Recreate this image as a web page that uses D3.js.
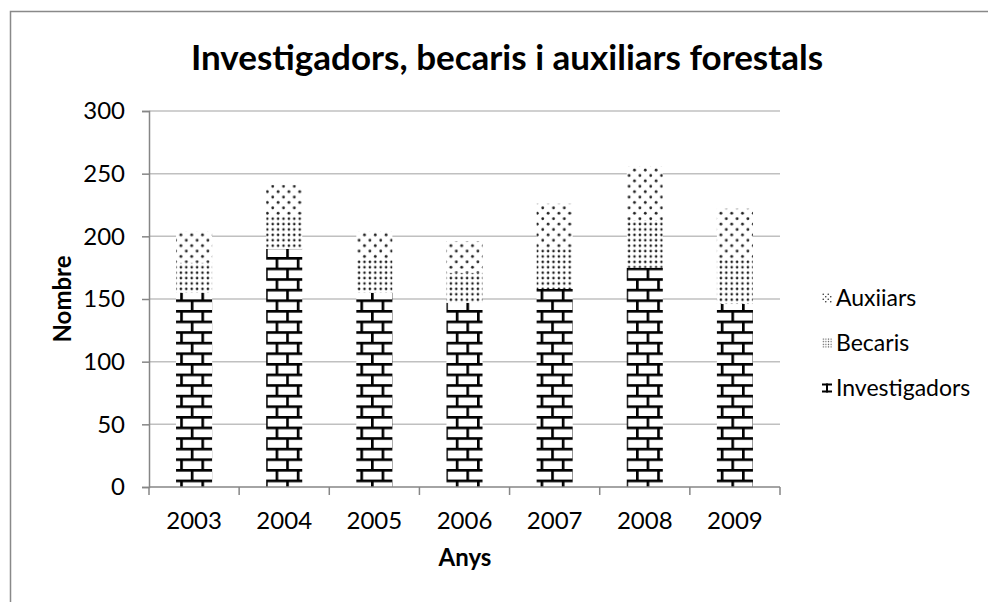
<!DOCTYPE html>
<html>
<head>
<meta charset="utf-8">
<title>Investigadors, becaris i auxiliars forestals</title>
<style>
  body { margin: 0; background: #fff; }
  text { font-family: Lato, "Open Sans", sans-serif; fill: #000; }
  .grid line { stroke: #c0c0c0; stroke-width: 1.5; }
</style>
</head>
<body>
<svg width="988" height="602"></svg>
<script src="https://cdnjs.cloudflare.com/ajax/libs/d3/7.8.5/d3.min.js"></script>
<script>
// data
var years = ["2003", "2004", "2005", "2006", "2007", "2008", "2009"];
var investigadors = [155, 190, 155, 147, 158, 175, 146];
var becaris = [24, 27, 27, 24, 33, 38, 36];
var auxiliars = [25, 24, 22, 25, 35, 43, 40];
// legend text kept as in the original ("Auxiiars")
var seriesNames = ["Investigadors", "Becaris", "Auxiiars"];
var yTicks = [0, 50, 100, 150, 200, 250, 300];

var svg = d3.select("svg"),
    width = +svg.attr("width"),
    height = +svg.attr("height");

var margin = {top: 111, left: 149, right: 208, bottom: 115};

var x = d3.scaleBand()
    .domain(years)
    .range([margin.left, width - margin.right])
    .paddingInner(0.6)
    .paddingOuter(0.3);

var y = d3.scaleLinear()
    .domain([0, 300])
    .range([height - margin.bottom, margin.top]);

// outer chart border
svg.append("rect")
    .attr("x", 10.5).attr("y", 11.5)
    .attr("width", 1000).attr("height", 1000)
    .attr("fill", "none")
    .attr("stroke", "#898989")
    .attr("stroke-width", 1.5);

// ---- fill patterns (Excel style) ----
var defs = svg.append("defs");

function brick(id, s) {
  var p = defs.append("pattern").attr("id", id)
      .attr("patternUnits", "userSpaceOnUse")
      .attr("width", 8 * s).attr("height", 8 * s)
      .attr("y", y(0) - 8 * s + 1.2 * s);
  p.append("rect").attr("width", 8 * s).attr("height", 8 * s).attr("fill", "#fff");
  var g = p.append("g").attr("fill", "#000");
  g.append("rect").attr("x", 0).attr("y", 0).attr("width", 8 * s).attr("height", s);
  g.append("rect").attr("x", 0).attr("y", 4 * s).attr("width", 8 * s).attr("height", s);
  g.append("rect").attr("x", 0).attr("y", 0).attr("width", s).attr("height", 4 * s);
  g.append("rect").attr("x", 4 * s).attr("y", 4 * s).attr("width", s).attr("height", 4 * s);
}

function dots(id, w, pts, r, col) {
  var p = defs.append("pattern").attr("id", id)
      .attr("patternUnits", "userSpaceOnUse")
      .attr("width", w).attr("height", w);
  p.append("rect").attr("width", w).attr("height", w).attr("fill", "#fff");
  pts.forEach(function(d) {
    p.append("circle").attr("cx", d[0] * w).attr("cy", d[1] * w)
      .attr("r", r).attr("fill", col);
  });
}

brick("pInv", 2.65);
dots("pBec", 5.4, [[0.5, 0.5]], 1.3, "#222");
dots("pAux", 10.8, [[0.25, 0.25], [0.75, 0.75]], 1.4, "#222");
dots("lBec", 2.6, [[0.5, 0.5]], 0.65, "#444");
dots("lAux", 5, [[0.25, 0.25], [0.75, 0.75]], 0.8, "#333");

// legend glyph for the brick series: top bar, middle post, bottom bar
var lInv = defs.append("pattern").attr("id", "lInv")
    .attr("patternUnits", "objectBoundingBox")
    .attr("patternContentUnits", "objectBoundingBox")
    .attr("width", 1).attr("height", 1);
lInv.append("rect").attr("width", 1).attr("height", 1).attr("fill", "#fff");
lInv.append("rect").attr("x", 0).attr("y", 0.05).attr("width", 1).attr("height", 0.2).attr("fill", "#000");
lInv.append("rect").attr("x", 0).attr("y", 0.75).attr("width", 1).attr("height", 0.2).attr("fill", "#000");
lInv.append("rect").attr("x", 0.4).attr("y", 0.05).attr("width", 0.2).attr("height", 0.9).attr("fill", "#000");

var fills = {Investigadors: "pInv", Becaris: "pBec", Auxiiars: "pAux"};
var legendFills = {Investigadors: "lInv", Becaris: "lBec", Auxiiars: "lAux"};

// ---- gridlines ----
svg.append("g")
    .attr("class", "grid")
    .selectAll("line")
    .data(yTicks.slice(1))
    .enter().append("line")
    .attr("x1", margin.left).attr("x2", width - margin.right)
    .attr("y1", function(d) { return y(d); })
    .attr("y2", function(d) { return y(d); });

// ---- stacked bars ----
var table = years.map(function(yr, i) {
  return {year: yr, Investigadors: investigadors[i], Becaris: becaris[i], Auxiiars: auxiliars[i]};
});
var stack = d3.stack().keys(seriesNames)(table);

svg.append("g").selectAll("g")
  .data(stack)
  .enter().append("g")
    .attr("fill", function(d) { return "url(#" + fills[d.key] + ")"; })
  .selectAll("rect")
  .data(function(d) { return d; })
  .enter().append("rect")
    .attr("x", function(d) { return x(d.data.year); })
    .attr("width", x.bandwidth())
    .attr("y", function(d) { return y(d[1]); })
    .attr("height", function(d) { return y(d[0]) - y(d[1]); });

// ---- axes ----
var yAxis = svg.append("g")
    .attr("class", "axis")
    .attr("transform", "translate(" + margin.left + ",0)")
    .call(d3.axisLeft(y).tickValues(yTicks).tickSize(7).tickPadding(17));

var xAxis = svg.append("g")
    .attr("class", "axis")
    .attr("transform", "translate(0," + y(0) + ")")
    .call(d3.axisBottom(x).tickSize(0).tickPadding(25));

// x ticks sit on category boundaries, like Excel
var step = x.step();
xAxis.selectAll(".boundary")
  .data(d3.range(years.length + 1))
  .enter().append("line")
    .attr("class", "boundary")
    .attr("x1", function(i) { return margin.left + i * step; })
    .attr("x2", function(i) { return margin.left + i * step; })
    .attr("y1", 0).attr("y2", 8);

xAxis.select(".domain").attr("d", "M" + margin.left + ",0H" + (width - margin.right));
svg.selectAll(".axis .domain, .axis line")
    .attr("stroke", "#868686").attr("stroke-width", 1.5);
svg.selectAll(".axis .tick text").style("font-size", "24px").attr("fill", "#000");

// ---- titles ----
svg.append("text")
    .attr("x", 507).attr("y", 70)
    .attr("text-anchor", "middle")
    .style("font-size", "35px").style("font-weight", "bold")
    .text("Investigadors, becaris i auxiliars forestals");

svg.append("text")
    .attr("transform", "translate(71," + ((y(0) + y(300)) / 2) + ") rotate(-90)")
    .attr("text-anchor", "middle")
    .style("font-size", "24px").style("font-weight", "bold")
    .text("Nombre");

svg.append("text")
    .attr("x", 465).attr("y", 566)
    .attr("text-anchor", "middle")
    .style("font-size", "24px").style("font-weight", "bold")
    .text("Anys");

// ---- legend ----
var legend = svg.append("g").selectAll("g")
  .data(seriesNames.slice().reverse())
  .enter().append("g")
    .attr("transform", function(d, i) { return "translate(822," + (298 + i * 45) + ")"; });

legend.append("rect")
    .attr("x", 0).attr("y", -5)
    .attr("width", 10).attr("height", 10)
    .attr("fill", function(d) { return "url(#" + legendFills[d] + ")"; });

legend.append("text")
    .attr("x", 14).attr("dy", "0.35em")
    .style("font-size", "23px")
    .text(function(d) { return d; });
</script>
</body>
</html>
